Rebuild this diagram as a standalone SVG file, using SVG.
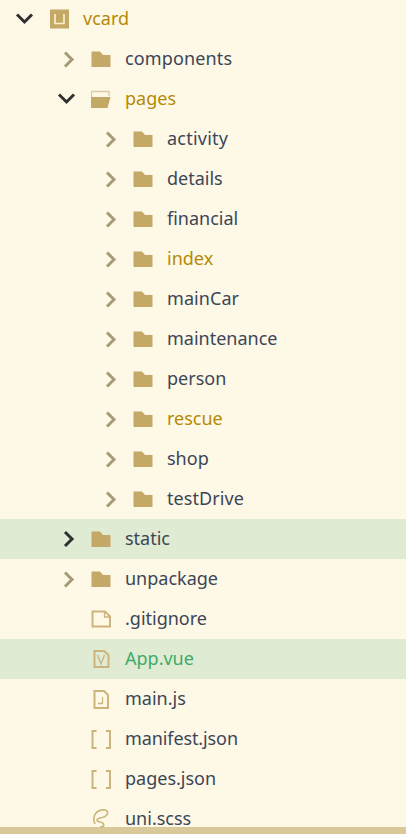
<svg xmlns="http://www.w3.org/2000/svg" width="406" height="834" viewBox="0 0 406 834">
<style>
text{font-family:"Noto Sans","Open Sans",sans-serif;font-size:18px;fill:#3b4656}
.y{fill:#b58a05}.g{fill:#3eaa6a}
.c{fill:none;stroke:#a89a78;stroke-width:3}
.o{fill:none;stroke:#2f3030;stroke-width:3}
.f{fill:#c4a865}
.l{fill:none;stroke:#cdb47c;stroke-width:2}
.t{fill:none;stroke:#cdb47c;stroke-width:1.300}
</style>
<defs>
<path id="cr" class="c" d="M-4 -6.500L3 0.500L-4 7.500"/>
<path id="cd" class="o" d="M-7.500 -4L0 3.500L7.500 -4"/>
<path id="fo" class="f" d="M0.500 0.500H9L12 4H19.500V16H0.500Z"/>
</defs>
<rect width="406" height="834" fill="#fef8e7"/>
<rect y="519" width="406" height="40" fill="#e0ebd3"/>
<rect y="639" width="406" height="40" fill="#e0ebd3"/>
<rect y="827" width="406" height="7" fill="#d9c99a"/>
<g id="connectors"/>
<g id="n-vcard"><use href="#cd" x="24.500" y="18.500"/><rect x="50" y="9.500" width="19" height="19" fill="#c4a865"/><path d="M55 14V23.500H64V14" fill="none" stroke="#fef0d0" stroke-width="1.600"/><text class="y" x="83" y="25">vcard</text></g>
<g id="n-components"><use href="#cr" x="69" y="59"/><use href="#fo" x="91" y="51"/><text x="125" y="65" textLength="107">components</text></g>
<g id="n-pages"><use href="#cd" x="66.500" y="98.500"/><path d="M91.500 97V91.500H109V96" fill="none" stroke="#dccba0" stroke-width="1.300"/><path class="f" d="M91 97H110.500L107.500 108H91Z"/><text class="y" x="125" y="105">pages</text></g>
<g id="n-activity"><use href="#cr" x="111" y="139"/><use href="#fo" x="133" y="131"/><text x="167" y="145" textLength="61">activity</text></g>
<g id="n-details"><use href="#cr" x="111" y="179"/><use href="#fo" x="133" y="171"/><text x="167" y="185">details</text></g>
<g id="n-financial"><use href="#cr" x="111" y="219"/><use href="#fo" x="133" y="211"/><text x="167" y="225">financial</text></g>
<g id="n-index"><use href="#cr" x="111" y="259"/><use href="#fo" x="133" y="251"/><text class="y" x="167" y="265">index</text></g>
<g id="n-mainCar"><use href="#cr" x="111" y="299"/><use href="#fo" x="133" y="291"/><text x="167" y="305" textLength="72">mainCar</text></g>
<g id="n-maintenance"><use href="#cr" x="111" y="339"/><use href="#fo" x="133" y="331"/><text x="167" y="345">maintenance</text></g>
<g id="n-person"><use href="#cr" x="111" y="379"/><use href="#fo" x="133" y="371"/><text x="167" y="385">person</text></g>
<g id="n-rescue"><use href="#cr" x="111" y="419"/><use href="#fo" x="133" y="411"/><text class="y" x="167" y="425">rescue</text></g>
<g id="n-shop"><use href="#cr" x="111" y="459"/><use href="#fo" x="133" y="451"/><text x="167" y="465">shop</text></g>
<g id="n-testDrive"><use href="#cr" x="111" y="499"/><use href="#fo" x="133" y="491"/><text x="167" y="505" textLength="77">testDrive</text></g>
<g id="n-static"><path class="o" d="M65 532L72 539L65 546"/><use href="#fo" x="91" y="531"/><text x="125" y="545">static</text></g>
<g id="n-unpackage"><use href="#cr" x="69" y="579"/><use href="#fo" x="91" y="571"/><text x="125" y="585" textLength="93">unpackage</text></g>
<g id="n-gitignore"><path class="l" d="M92.500 611.500H105L110 616.500V626.500H92.500Z"/><path class="t" d="M104.500 612V617H109.500"/><text x="125" y="625">.gitignore</text></g>
<g id="n-app"><path class="l" d="M94.500 651H104L108.500 655V667H94.500Z"/><path class="t" d="M97.500 655L101 664L104.500 655"/><text class="g" x="125" y="665">App.vue</text></g>
<g id="n-main"><path class="l" d="M94.500 691H104L108 695V708H94.500Z"/><path class="t" d="M102.500 697V703.500H98"/><text x="125" y="705">main.js</text></g>
<g id="n-manifest"><path class="l" d="M96.500 731H92.500V748H96.500M106 731H110V748H106"/><text x="125" y="745" textLength="113">manifest.json</text></g>
<g id="n-pagesjson"><path class="l" d="M96.500 771H92.500V788H96.500M106 771H110V788H106"/><text x="125" y="785">pages.json</text></g>
<g id="n-uni"><path d="M95 824C91 815 98 809 105 810C110 811 108 817 100 818C96 819 96 821 100 822C105 823 105 827 100 827" fill="none" stroke="#cdb47c" stroke-width="1.600"/><text x="125" y="825">uni.scss</text></g>
</svg>
